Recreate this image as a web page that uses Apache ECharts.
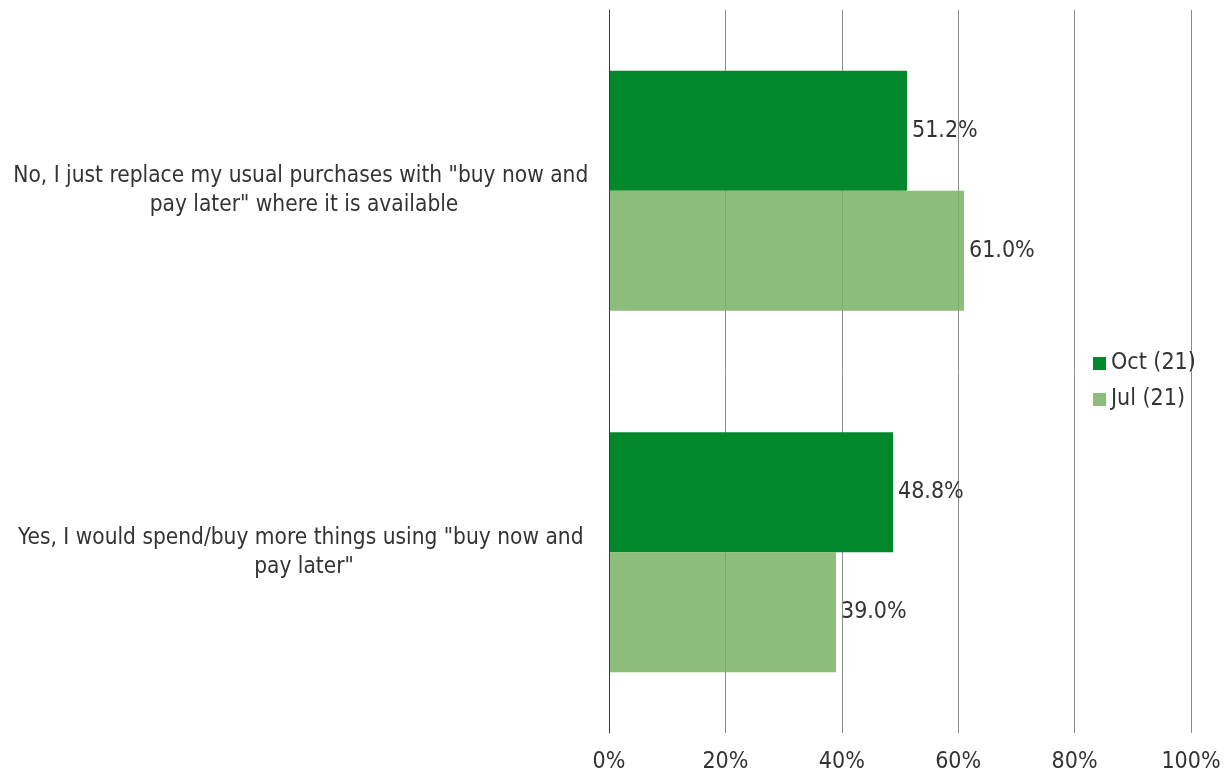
<!DOCTYPE html>
<html>
<head>
<meta charset="utf-8">
<script src="https://cdn.jsdelivr.net/npm/echarts@6/dist/echarts.min.js"></script>
<style>
  html, body { margin: 0; padding: 0; background: #ffffff; }
  #chart { width: 1226px; height: 777px; }
</style>
</head>
<body>
<div id="chart"></div>
<script>
// Survey answers (top to bottom) and the share of respondents per wave
const categories = [
  'No, I just replace my usual purchases with "buy now and pay later" where it is available',
  'Yes, I would spend/buy more things using "buy now and pay later"'
];
const octValues = [51.2, 48.8];
const julValues = [61.0, 39.0];
const seriesNames = ['Oct (21)', 'Jul (21)'];
const xTicks = [0, 20, 40, 60, 80, 100];

const FONT = '"DejaVu Sans Condensed", "DejaVu Sans", sans-serif';
const FS = 23;
const chart = echarts.init(document.getElementById('chart'));

const valueLabel = {
  show: true,
  position: 'right',
  distance: 5,
  formatter: p => p.value.toFixed(1) + '%',
  fontSize: FS,
  color: '#333333',
  fontFamily: FONT
};

chart.setOption({
  animation: false,
  textStyle: { fontFamily: FONT },
  grid: {
    left: 609, right: 35, top: 10, bottom: 44,
    containLabel: false,
    outerBoundsMode: 'none'
  },
  legend: {
    orient: 'vertical',
    left: 1088,
    top: 347,
    itemWidth: 13,
    itemHeight: 13,
    itemGap: 13,
    icon: 'rect',
    textStyle: { fontSize: FS, color: '#333333', fontFamily: FONT },
    data: seriesNames
  },
  xAxis: {
    type: 'value',
    min: xTicks[0],
    max: xTicks[xTicks.length - 1],
    interval: 20,
    axisLine: { show: false },
    axisTick: { show: false },
    axisLabel: {
      formatter: '{value}%',
      fontSize: FS,
      color: '#333333',
      margin: 18,
      fontFamily: FONT
    },
    splitLine: { show: true, lineStyle: { color: '#8c8c8c', width: 1 } }
  },
  yAxis: {
    type: 'category',
    inverse: true,
    data: categories,
    z: 6,
    axisLine: { show: true, onZero: false, lineStyle: { color: '#3a3a3a', width: 1 } },
    axisTick: { show: false },
    axisLabel: {
      fontSize: 22.5,
      color: '#333333',
      lineHeight: 29,
      width: 590,
      overflow: 'break',
      align: 'center',
      margin: 305,
      fontFamily: FONT
    }
  },
  series: [
    {
      name: seriesNames[0],
      type: 'bar',
      data: octValues,
      barWidth: 120,
      barGap: '0%',
      barCategoryGap: '33%',
      itemStyle: { color: '#00882b' },
      label: valueLabel
    },
    {
      name: seriesNames[1],
      type: 'bar',
      data: julValues,
      barWidth: 120,
      barGap: '0%',
      itemStyle: { color: 'rgba(120,177,99,0.85)' },
      label: valueLabel
    }
  ]
});
</script>
</body>
</html>
